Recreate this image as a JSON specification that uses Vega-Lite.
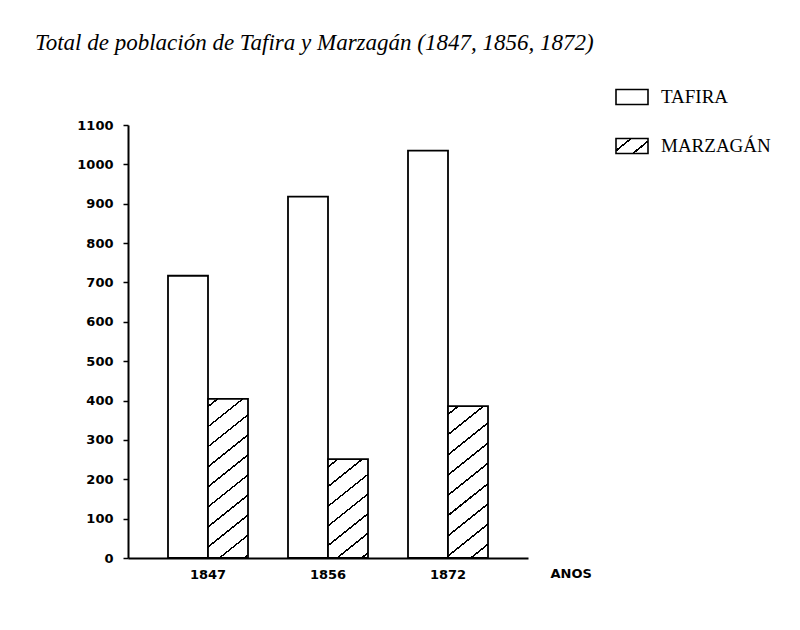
{
  "$schema": "https://vega.github.io/schema/vega-lite/v6.json",
  "autosize": "none",
  "width": 400,
  "height": 433,
  "padding": {"left": 128, "top": 125, "right": 272, "bottom": 72},
  "background": "white",
  "title": {
    "text": "Total de población de Tafira y Marzagán (1847, 1856, 1872)",
    "font": "Liberation Serif",
    "fontStyle": "italic",
    "fontWeight": "normal",
    "fontSize": 23,
    "color": "black",
    "anchor": "start",
    "frame": "group",
    "dx": -93,
    "offset": 25
  },
  "config": {
    "view": {"stroke": null},
    "axis": {
      "domainColor": "black",
      "domainWidth": 2,
      "tickColor": "black",
      "labelColor": "black",
      "labelFont": "DejaVu Sans",
      "labelFontWeight": "bold",
      "labelFontSize": 13,
      "titleColor": "black",
      "titleFont": "DejaVu Sans",
      "titleFontWeight": "bold",
      "titleFontSize": 13,
      "grid": false
    }
  },
  "data": {
    "values": [
      {"year": "1847", "zona": "TAFIRA", "poblacion": 717},
      {"year": "1847", "zona": "MARZAGÁN", "poblacion": 404},
      {"year": "1856", "zona": "TAFIRA", "poblacion": 918},
      {"year": "1856", "zona": "MARZAGÁN", "poblacion": 251},
      {"year": "1872", "zona": "TAFIRA", "poblacion": 1035},
      {"year": "1872", "zona": "MARZAGÁN", "poblacion": 386}
    ]
  },
  "mark": {"type": "bar", "stroke": "black", "strokeWidth": 1.8, "cornerRadius": 0, "fillOpacity": 1},
  "encoding": {
    "x": {
      "field": "year",
      "type": "nominal",
      "scale": {"paddingInner": 0.3333, "paddingOuter": 0.3333},
      "axis": {
        "ticks": false,
        "labelAngle": 0,
        "labelPadding": 10,
        "title": "ANOS",
        "titleX": 422,
        "titleY": 15,
        "titleAlign": "left",
        "titleBaseline": "middle",
        "titleAngle": 0
      }
    },
    "xOffset": {
      "field": "zona",
      "type": "nominal",
      "sort": ["TAFIRA", "MARZAGÁN"],
      "scale": {"paddingInner": 0, "paddingOuter": 0}
    },
    "y": {
      "field": "poblacion",
      "type": "quantitative",
      "scale": {"domain": [0, 1100], "nice": false},
      "axis": {
        "values": [0, 100, 200, 300, 400, 500, 600, 700, 800, 900, 1000, 1100],
        "format": "d",
        "tickSize": 5,
        "tickWidth": 1.5,
        "labelPadding": 10,
        "title": null
      }
    },
    "fill": {
      "field": "zona",
      "type": "nominal",
      "scale": {
        "domain": ["TAFIRA", "MARZAGÁN"],
        "range": [
          "white",
          {"expr": "{gradient: 'linear', x1: 0, y1: 0, x2: 1.18, y2: 0.69, stops: [{offset: 0, color: 'white'}, {offset: 0.275, color: 'white'}, {offset: 0.275, color: 'black'}, {offset: 0.325, color: 'black'}, {offset: 0.325, color: 'white'}, {offset: 0.675, color: 'white'}, {offset: 0.675, color: 'black'}, {offset: 0.725, color: 'black'}, {offset: 0.725, color: 'white'}, {offset: 1, color: 'white'}]}"}
        ]
      },
      "legend": {
        "orient": "none",
        "legendX": 487,
        "legendY": -45,
        "title": null,
        "padding": 0,
        "symbolType": "M-1,-0.47H1V0.47H-1Z",
        "symbolSize": 1024,
        "symbolStrokeWidth": 1.6,
        "symbolStrokeColor": "black",
        "symbolOpacity": 1,
        "labelFont": "Liberation Serif",
        "labelFontSize": 19,
        "labelColor": "black",
        "labelOffset": 12,
        "rowPadding": 21
      },
      "condition": [
        {
          "test": "datum.zona === 'MARZAGÁN' && datum.year === '1847'",
          "value": {
            "gradient": "linear",
            "x1": 0, "y1": 0, "x2": 0.2324, "y2": 1.1545,
            "stops": [
              {"offset": 0, "color": "white"},
              {"offset": 0.035, "color": "white"}, {"offset": 0.035, "color": "black"}, {"offset": 0.045, "color": "black"}, {"offset": 0.045, "color": "white"},
              {"offset": 0.14, "color": "white"}, {"offset": 0.14, "color": "black"}, {"offset": 0.15, "color": "black"}, {"offset": 0.15, "color": "white"},
              {"offset": 0.245, "color": "white"}, {"offset": 0.245, "color": "black"}, {"offset": 0.255, "color": "black"}, {"offset": 0.255, "color": "white"},
              {"offset": 0.35, "color": "white"}, {"offset": 0.35, "color": "black"}, {"offset": 0.36, "color": "black"}, {"offset": 0.36, "color": "white"},
              {"offset": 0.455, "color": "white"}, {"offset": 0.455, "color": "black"}, {"offset": 0.465, "color": "black"}, {"offset": 0.465, "color": "white"},
              {"offset": 0.56, "color": "white"}, {"offset": 0.56, "color": "black"}, {"offset": 0.57, "color": "black"}, {"offset": 0.57, "color": "white"},
              {"offset": 0.665, "color": "white"}, {"offset": 0.665, "color": "black"}, {"offset": 0.675, "color": "black"}, {"offset": 0.675, "color": "white"},
              {"offset": 0.77, "color": "white"}, {"offset": 0.77, "color": "black"}, {"offset": 0.78, "color": "black"}, {"offset": 0.78, "color": "white"},
              {"offset": 0.875, "color": "white"}, {"offset": 0.875, "color": "black"}, {"offset": 0.885, "color": "black"}, {"offset": 0.885, "color": "white"},
              {"offset": 0.98, "color": "white"}, {"offset": 0.98, "color": "black"}, {"offset": 0.99, "color": "black"}, {"offset": 0.99, "color": "white"},
              {"offset": 1, "color": "white"}
            ]
          }
        },
        {
          "test": "datum.zona === 'MARZAGÁN' && datum.year === '1856'",
          "value": {
            "gradient": "linear",
            "x1": 0, "y1": 0, "x2": 0.3881, "y2": 1.1983,
            "stops": [
              {"offset": 0, "color": "white"},
              {"offset": 0.0525, "color": "white"}, {"offset": 0.0525, "color": "black"}, {"offset": 0.0675, "color": "black"}, {"offset": 0.0675, "color": "white"},
              {"offset": 0.2025, "color": "white"}, {"offset": 0.2025, "color": "black"}, {"offset": 0.2175, "color": "black"}, {"offset": 0.2175, "color": "white"},
              {"offset": 0.3525, "color": "white"}, {"offset": 0.3525, "color": "black"}, {"offset": 0.3675, "color": "black"}, {"offset": 0.3675, "color": "white"},
              {"offset": 0.5025, "color": "white"}, {"offset": 0.5025, "color": "black"}, {"offset": 0.5175, "color": "black"}, {"offset": 0.5175, "color": "white"},
              {"offset": 0.6525, "color": "white"}, {"offset": 0.6525, "color": "black"}, {"offset": 0.6675, "color": "black"}, {"offset": 0.6675, "color": "white"},
              {"offset": 0.8025, "color": "white"}, {"offset": 0.8025, "color": "black"}, {"offset": 0.8175, "color": "black"}, {"offset": 0.8175, "color": "white"},
              {"offset": 0.9525, "color": "white"}, {"offset": 0.9525, "color": "black"}, {"offset": 0.9675, "color": "black"}, {"offset": 0.9675, "color": "white"},
              {"offset": 1, "color": "white"}
            ]
          }
        },
        {
          "test": "datum.zona === 'MARZAGÁN' && datum.year === '1872'",
          "value": {
            "gradient": "linear",
            "x1": 0, "y1": 0, "x2": 0.2440, "y2": 1.1592,
            "stops": [
              {"offset": 0, "color": "white"},
              {"offset": 0.0395, "color": "white"}, {"offset": 0.0395, "color": "black"}, {"offset": 0.0505, "color": "black"}, {"offset": 0.0505, "color": "white"},
              {"offset": 0.1495, "color": "white"}, {"offset": 0.1495, "color": "black"}, {"offset": 0.1605, "color": "black"}, {"offset": 0.1605, "color": "white"},
              {"offset": 0.2595, "color": "white"}, {"offset": 0.2595, "color": "black"}, {"offset": 0.2705, "color": "black"}, {"offset": 0.2705, "color": "white"},
              {"offset": 0.3695, "color": "white"}, {"offset": 0.3695, "color": "black"}, {"offset": 0.3805, "color": "black"}, {"offset": 0.3805, "color": "white"},
              {"offset": 0.4795, "color": "white"}, {"offset": 0.4795, "color": "black"}, {"offset": 0.4905, "color": "black"}, {"offset": 0.4905, "color": "white"},
              {"offset": 0.5895, "color": "white"}, {"offset": 0.5895, "color": "black"}, {"offset": 0.6005, "color": "black"}, {"offset": 0.6005, "color": "white"},
              {"offset": 0.6995, "color": "white"}, {"offset": 0.6995, "color": "black"}, {"offset": 0.7105, "color": "black"}, {"offset": 0.7105, "color": "white"},
              {"offset": 0.8095, "color": "white"}, {"offset": 0.8095, "color": "black"}, {"offset": 0.8205, "color": "black"}, {"offset": 0.8205, "color": "white"},
              {"offset": 0.9195, "color": "white"}, {"offset": 0.9195, "color": "black"}, {"offset": 0.9305, "color": "black"}, {"offset": 0.9305, "color": "white"},
              {"offset": 1, "color": "white"}
            ]
          }
        }
      ]
    }
  }
}
